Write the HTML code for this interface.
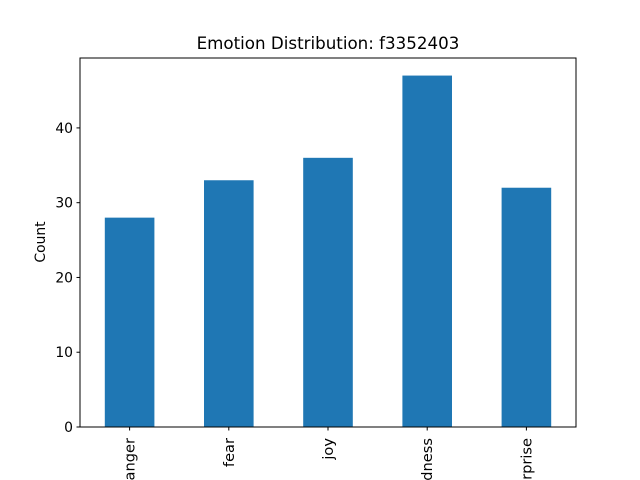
<!DOCTYPE html>
<html><head><meta charset="utf-8"><style>body{margin:0;background:#fff}svg{display:block;font-family:"DejaVu Sans","Liberation Sans",sans-serif}</style></head>
<body>
<svg id="chart" width="640" height="480" viewBox="0 0 640 480" overflow="hidden">
<rect width="640" height="480" fill="#fff"/>
<text x="328" y="49" text-anchor="middle" font-size="16.7">Emotion Distribution: f3352403</text>
<text transform="translate(45,242) rotate(-90)" text-anchor="middle" font-size="13.9">Count</text>
<g id="plot"></g>
<rect x="80" y="58" width="496" height="369" fill="none" stroke="#000" stroke-width="1"/>
</svg>
<script>
const categories = ["anger","fear","joy","sadness","surprise"];
const counts = [28,33,36,47,32];
const yTicks = [0,10,20,30,40];
const L=80,R=576,T=58,B=427;
const yMax = Math.max(...counts)*1.05;
const ns="http://www.w3.org/2000/svg";
const g=document.getElementById('plot');
function y(v){return B-(v/yMax)*(B-T);}
function x(i){return L+(i+0.5)*(R-L)/categories.length;}
const bw=0.5*(R-L)/categories.length;
function mk(t,a){const e=document.createElementNS(ns,t);for(const k in a)e.setAttribute(k,a[k]);g.appendChild(e);return e;}
counts.forEach((v,i)=>{
 const r=mk('rect',{x:x(i)-bw/2,y:y(v),width:bw,height:B-y(v),fill:'#1f77b4'});
 
 
 const tk=mk('line',{x1:x(i),x2:x(i),y1:B,y2:B+3.5,stroke:'#000'});
 
 
 const t=mk('text',{transform:`translate(${x(i)+5},${B+11}) rotate(-90)`,'text-anchor':'end','font-size':'14.6'});
 t.textContent=categories[i];
 
 
});
yTicks.forEach(v=>{
 const tk=mk('line',{x1:L-3.5,x2:L,y1:y(v),y2:y(v),stroke:'#000'});
 
 
 const t=mk('text',{x:L-7,y:y(v)+5,'text-anchor':'end','font-size':'13.9'});
 t.textContent=v;
 
 
});
</script>
</body></html>
